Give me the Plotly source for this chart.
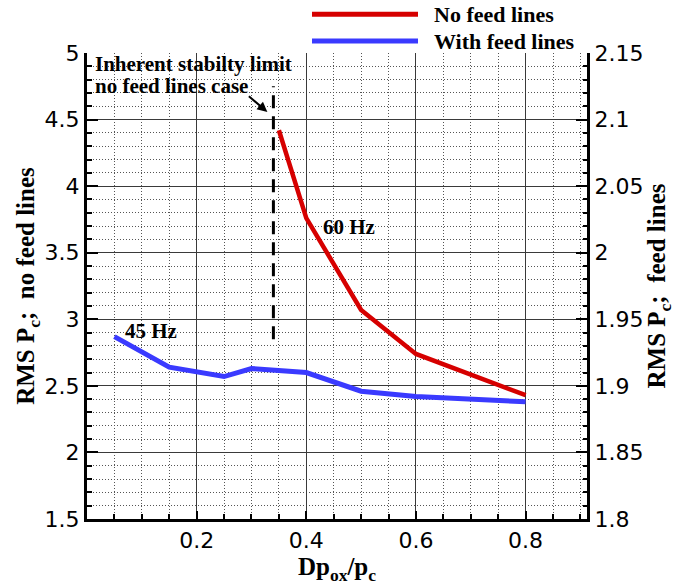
import plotly.graph_objects as go

# ---- data ----
x_nofeed = [0.35, 0.4, 0.5, 0.6, 0.8]
rms_nofeed = [4.42, 3.76, 3.07, 2.74, 2.43]

x_feed = [0.05, 0.15, 0.25, 0.3, 0.4, 0.5, 0.6, 0.8]
rms_feed = [1.937, 1.914, 1.907, 1.913, 1.910, 1.896, 1.892, 1.888]

limit_x = [0.34, 0.34]
limit_y = [2.85, 4.75]

x_ticks = [0.2, 0.4, 0.6, 0.8]
y_left_range = [1.5, 5.0]
y_right_range = [1.8, 2.15]
x_range = [0.0, 0.912]

RED = "#D60000"
BLUE = "#3A3AFF"
SERIF = "Liberation Serif"
SANS = "DejaVu Sans"

fig = go.Figure()

fig.add_trace(go.Scatter(x=x_nofeed, y=rms_nofeed, mode="lines", name="No feed lines",
                         line=dict(color=RED, width=4.5), showlegend=False, yaxis="y"))
fig.add_trace(go.Scatter(x=x_feed, y=rms_feed, mode="lines", name="With feed lines",
                         line=dict(color=BLUE, width=5), showlegend=False, yaxis="y2"))
fig.add_trace(go.Scatter(x=limit_x, y=limit_y, mode="lines", showlegend=False, hoverinfo="skip",
                         line=dict(color="black", width=3, dash="13px,8px"), yaxis="y"))

grid_col = "#3a3a3a"
minor_col = "#555555"

fig.update_layout(
    width=682, height=587,
    margin=dict(l=87, r=95, t=53, b=65),
    paper_bgcolor="white", plot_bgcolor="white",
    showlegend=False,
    xaxis=dict(
        range=x_range, tickvals=x_ticks, ticktext=[f"{v:g}" for v in x_ticks],
        ticks="inside", ticklen=8, tickwidth=2, tickcolor="black",
        showline=True, linewidth=3, linecolor="black",
        showgrid=True, gridcolor=grid_col, gridwidth=1,
        zeroline=False,
        tickfont=dict(family=SANS, size=22, color="black"),
        minor=dict(tick0=0, dtick=0.05, ticks="inside", ticklen=5, tickcolor="black",
                   showgrid=True, gridcolor=minor_col, gridwidth=1, griddash="1px,2px"),
        title=dict(text="<b>Dp<sub>ox</sub>/p<sub>c</sub></b>",
                   font=dict(family=SERIF, size=25, color="black"), standoff=4),
    ),
    yaxis=dict(
        range=y_left_range, dtick=0.5, tick0=1.5,
        ticks="inside", ticklen=11, tickwidth=2, tickcolor="black",
        showline=True, linewidth=3, linecolor="black",
        showgrid=True, gridcolor=grid_col, gridwidth=1,
        zeroline=False,
        tickfont=dict(family=SANS, size=22, color="black"),
        minor=dict(tick0=0, dtick=0.1, ticks="inside", ticklen=5, tickcolor="black",
                   showgrid=True, gridcolor=minor_col, gridwidth=1, griddash="1px,2px"),
        title=dict(text="<b>RMS P<sub>c</sub>;&nbsp;&nbsp;no feed lines</b>",
                   font=dict(family=SERIF, size=25, color="black"), standoff=3),
    ),
    yaxis2=dict(
        range=y_right_range, dtick=0.05, tick0=1.8, overlaying="y", side="right",
        ticks="inside", ticklen=11, tickwidth=2, tickcolor="black",
        showline=True, linewidth=3, linecolor="black",
        showgrid=False, zeroline=False,
        tickfont=dict(family=SANS, size=22, color="black"),
        minor=dict(tick0=0, dtick=0.01, ticks="inside", ticklen=4, tickcolor="black",
                   showgrid=False),
        title=dict(text="<b>RMS P<sub>c</sub>;&nbsp;&nbsp;feed lines</b>",
                   font=dict(family=SERIF, size=25, color="black"), standoff=3),
    ),
)

ann_font = dict(family=SERIF, size=21, color="black")

fig.add_annotation(x=0.011, y=4.92, xref="x", yref="y", text="<b>Inherent stabilty limit</b>",
                   showarrow=False, xanchor="left", yanchor="middle", font=ann_font)
fig.add_annotation(x=0.011, y=4.75, xref="x", yref="y", text="<b>no feed lines case</b>",
                   showarrow=False, xanchor="left", yanchor="middle", font=ann_font)
fig.add_annotation(x=0.329, y=4.557, ax=0.2925, ay=4.684, xref="x", yref="y",
                   axref="x", ayref="y", text="", showarrow=True,
                   arrowhead=2, arrowsize=1, arrowwidth=2, arrowcolor="black")
fig.add_annotation(x=0.426, y=3.69, xref="x", yref="y", text="<b>60 Hz</b>",
                   showarrow=False, xanchor="left", yanchor="middle", font=ann_font)
fig.add_annotation(x=0.066, y=2.91, xref="x", yref="y", text="<b>45 Hz</b>",
                   showarrow=False, xanchor="left", yanchor="middle", font=ann_font)

# legend (drawn above the plot, top right)
legend_items = [("No feed lines", RED, 1.083), ("With feed lines", BLUE, 1.0256)]
for label, col, yy in legend_items:
    fig.add_shape(type="line", xref="paper", yref="paper", x0=0.45, x1=0.662, y0=yy, y1=yy,
                  line=dict(color=col, width=5))
    fig.add_annotation(x=0.69, y=yy, xref="paper", yref="paper", text=f"<b>{label}</b>",
                       showarrow=False, xanchor="left", yanchor="middle",
                       font=dict(family=SERIF, size=22, color="black"))

fig.write_html("out.html")
